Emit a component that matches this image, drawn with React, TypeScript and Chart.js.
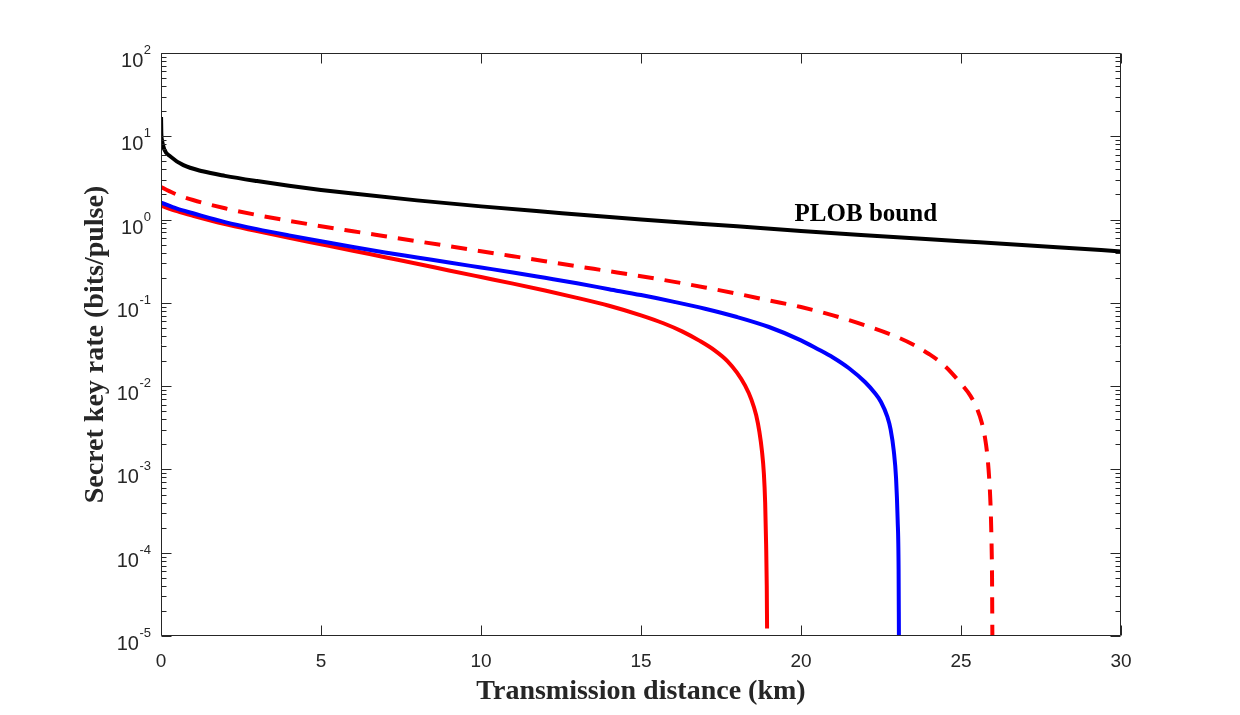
import React, { useEffect, useRef } from "react";
import { Chart, registerables } from "chart.js";

Chart.register(...registerables);

// PLOB bound (repeaterless key capacity) versus distance
const plobDistance = [0.002, 0.01, 0.03, 0.1, 0.3, 0.7, 1.3, 2, 3, 4, 5, 6, 8, 10, 12, 15, 18, 20, 22, 25, 28, 30];
const plobRate = [17, 11, 9.0, 7.0, 5.7, 4.5, 3.8, 3.35, 2.9, 2.55, 2.27, 2.05, 1.7, 1.44, 1.24, 1.0, 0.83, 0.73, 0.65, 0.55, 0.465, 0.415];

// Red dashed protocol curve
const dashedDistance = [0, 0.5, 1, 2, 3, 4, 5, 6, 7, 8, 9, 10, 11, 12, 13, 14, 15, 16, 17, 18, 19, 20, 21, 22, 23, 23.5, 24, 24.5, 25, 25.3, 25.5, 25.65, 25.75, 25.82, 25.88, 25.92, 25.95, 25.97, 25.98];
const dashedRate = [2.45, 1.995, 1.718, 1.365, 1.135, 0.966, 0.832, 0.724, 0.631, 0.55, 0.479, 0.417, 0.363, 0.316, 0.275, 0.24, 0.209, 0.18, 0.153, 0.129, 0.107, 0.0891, 0.0708, 0.0537, 0.0389, 0.0316, 0.0243, 0.0174, 0.0107, 0.00759, 0.00537, 0.00363, 0.0024, 0.00151, 7.9e-4, 4.0e-4, 1.58e-4, 5.0e-5, 1e-5];

// Blue protocol curve
const blueDistance = [0, 0.5, 1, 2, 3, 4, 5, 6, 7, 8, 9, 10, 11, 12, 13, 14, 15, 16, 17, 18, 19, 20, 20.5, 21, 21.5, 22, 22.3, 22.5, 22.7, 22.8, 22.9, 22.97, 23.02, 23.05, 23.06];
const blueRate = [1.6, 1.35, 1.19, 0.933, 0.767, 0.646, 0.55, 0.468, 0.403, 0.351, 0.305, 0.266, 0.232, 0.2, 0.172, 0.146, 0.124, 0.1035, 0.0851, 0.0676, 0.0513, 0.0355, 0.0282, 0.0221, 0.0164, 0.0112, 0.00832, 0.00646, 0.00427, 0.00302, 0.00166, 7.9e-4, 2.5e-4, 6.3e-5, 1e-5];

// Red solid protocol curve
const redDistance = [0, 0.5, 1, 2, 3, 4, 5, 6, 7, 8, 9, 10, 11, 12, 13, 14, 15, 15.7, 16.3, 16.85, 17.3, 17.7, 18.0, 18.25, 18.45, 18.6, 18.7, 18.78, 18.84, 18.88, 18.91, 18.93, 18.94];
const redRate = [1.47, 1.26, 1.109, 0.881, 0.728, 0.605, 0.506, 0.423, 0.353, 0.295, 0.245, 0.204, 0.17, 0.1406, 0.1148, 0.0923, 0.0708, 0.0569, 0.0452, 0.0347, 0.0269, 0.02, 0.0145, 0.0102, 0.0069, 0.00447, 0.00282, 0.00166, 8.9e-4, 4.0e-4, 1.26e-4, 4.0e-5, 1.23e-5];

const xTicks = [0, 5, 10, 15, 20, 25, 30];
const yExponents = [-5, -4, -3, -2, -1, 0, 1, 2];

const xTitle = "Transmission distance (km)";
const yTitle = "Secret key rate (bits/pulse)";
const plobLabel = "PLOB bound";

const AXIS_COLOR = "#262626";

const toPoints = (xs: number[], ys: number[]) => xs.map((x, i) => ({ x, y: ys[i] }));

const matlabAxes = {
  id: "matlabAxes",
  afterDraw(chart: any) {
    const { ctx, chartArea: a, scales } = chart;
    const xs = scales.x;
    const ys = scales.y;
    ctx.save();

    // PLOB annotation
    ctx.fillStyle = "#000";
    ctx.font = "bold 25px 'Liberation Serif', 'Times New Roman', serif";
    ctx.textAlign = "left";
    ctx.textBaseline = "alphabetic";
    ctx.fillText(plobLabel, xs.getPixelForValue(19.8), ys.getPixelForValue(0.97));

    // box
    ctx.strokeStyle = AXIS_COLOR;
    ctx.lineWidth = 1;
    const L = Math.round(a.left) + 0.5;
    const R = Math.round(a.right) - 0.5;
    const T = Math.round(a.top) + 0.5;
    const B = Math.round(a.bottom) - 0.5;
    ctx.beginPath();
    ctx.rect(L, T, R - L, B - T);
    ctx.stroke();

    // x ticks (inward, top and bottom)
    ctx.beginPath();
    xTicks.forEach((v) => {
      const px = Math.round(xs.getPixelForValue(v)) + 0.5;
      ctx.moveTo(px, B);
      ctx.lineTo(px, B - 10);
      ctx.moveTo(px, T);
      ctx.lineTo(px, T + 10);
    });
    // y ticks, major and minor, both sides
    yExponents.forEach((e) => {
      const py = Math.round(ys.getPixelForValue(Math.pow(10, e))) + 0.5;
      ctx.moveTo(L, py);
      ctx.lineTo(L + 10, py);
      ctx.moveTo(R, py);
      ctx.lineTo(R - 10, py);
      if (e < 2) {
        for (let k = 2; k <= 9; k++) {
          const pm = Math.round(ys.getPixelForValue(k * Math.pow(10, e))) + 0.5;
          ctx.moveTo(L, pm);
          ctx.lineTo(L + 5, pm);
          ctx.moveTo(R, pm);
          ctx.lineTo(R - 5, pm);
        }
      }
    });
    ctx.stroke();

    // tick labels
    ctx.fillStyle = AXIS_COLOR;
    ctx.font = "19px 'Liberation Sans', Arial, sans-serif";
    ctx.textAlign = "center";
    ctx.textBaseline = "alphabetic";
    xTicks.forEach((v) => {
      ctx.fillText(String(v), xs.getPixelForValue(v), a.bottom + 31);
    });

    yExponents.forEach((e) => {
      const py = ys.getPixelForValue(Math.pow(10, e));
      const exp = String(e);
      ctx.font = "13px 'Liberation Sans', Arial, sans-serif";
      const ew = ctx.measureText(exp).width;
      const expRight = a.left - 10;
      ctx.textAlign = "right";
      ctx.fillText(exp, expRight, py + 1);
      ctx.font = "20px 'Liberation Sans', Arial, sans-serif";
      ctx.fillText("10", expRight - ew - 0.5, py + 14);
    });

    // axis titles
    ctx.fillStyle = AXIS_COLOR;
    ctx.font = "bold 28px 'Liberation Serif', 'Times New Roman', serif";
    ctx.textAlign = "center";
    ctx.textBaseline = "alphabetic";
    ctx.fillText(xTitle, (a.left + a.right) / 2, 699);

    ctx.save();
    ctx.translate(103, (a.top + a.bottom) / 2);
    ctx.rotate(-Math.PI / 2);
    ctx.fillText(yTitle, 0, 0);
    ctx.restore();

    ctx.restore();
  },
};

export default function App() {
  const canvasRef = useRef<HTMLCanvasElement | null>(null);

  useEffect(() => {
    const canvas = canvasRef.current;
    if (!canvas) return;
    const chart = new Chart(canvas, {
      type: "line",
      data: {
        datasets: [
          {
            label: "PLOB bound",
            data: toPoints(plobDistance, plobRate),
            borderColor: "#000000",
            borderWidth: 4,
          },
          {
            label: "Blue",
            data: toPoints(blueDistance, blueRate),
            borderColor: "#0000ff",
            borderWidth: 4,
          },
          {
            label: "Red",
            data: toPoints(redDistance, redRate),
            borderColor: "#ff0000",
            borderWidth: 4,
          },
          {
            label: "Red dashed",
            data: toPoints(dashedDistance, dashedRate),
            borderColor: "#ff0000",
            borderWidth: 4,
            borderDash: [16, 11],
          },
        ],
      },
      options: {
        animation: false,
        responsive: false,
        maintainAspectRatio: false,
        events: [],
        layout: { padding: { left: 0, right: 119, top: 53, bottom: 0 } },
        elements: {
          point: { radius: 0 },
          line: { fill: false, cubicInterpolationMode: "monotone", borderCapStyle: "butt" },
        },
        plugins: {
          legend: { display: false },
          tooltip: { enabled: false },
          title: { display: false },
        },
        scales: {
          x: {
            type: "linear",
            min: 0,
            max: 30,
            grid: { display: false, drawTicks: false },
            border: { display: false },
            ticks: { display: false },
            afterFit: (scale: any) => {
              scale.height = 79;
            },
          },
          y: {
            type: "logarithmic",
            min: 1e-5,
            max: 100,
            grid: { display: false, drawTicks: false },
            border: { display: false },
            ticks: { display: false },
            afterFit: (scale: any) => {
              scale.width = 161;
            },
          },
        },
      },
      plugins: [matlabAxes],
    });
    return () => chart.destroy();
  }, []);

  return (
    <div style={{ position: "fixed", left: 0, top: 0, width: 1240, height: 715, background: "#ffffff" }}>
      <canvas ref={canvasRef} width={1240} height={715} style={{ width: 1240, height: 715, display: "block" }} />
    </div>
  );
}
